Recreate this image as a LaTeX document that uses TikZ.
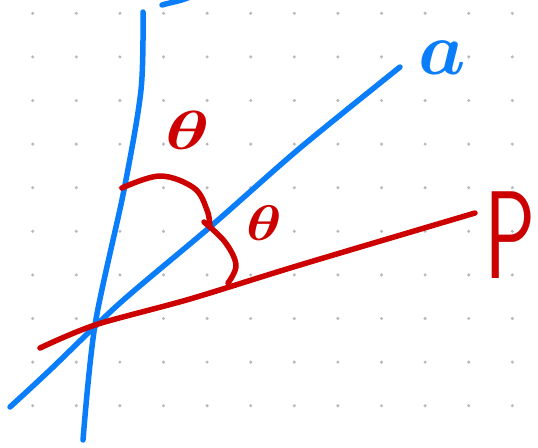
\documentclass[tikz,border=0pt]{standalone}
\usetikzlibrary{positioning}

\definecolor{penblue}{RGB}{10,125,250}
\definecolor{penred}{RGB}{205,0,0}
\definecolor{dotgray}{RGB}{185,185,185}

\tikzset{
  pen/.style={line width=5.5pt, line cap=round, line join=round},
  griddot/.style={fill=dotgray},
  handlabel/.style={inner sep=0pt, font=\boldmath}
}

\begin{document}
\begin{tikzpicture}[x=1pt, y=-1pt]
  \useasboundingbox (0,0) rectangle (538,447);
  \clip (0,0) rectangle (538,447);

  % Dotted paper
  \foreach \i in {0,...,11}
    \foreach \j in {0,...,9}
      \fill[griddot] (32.7+43.6*\i, 13.3+43.6*\j) circle (1.7pt);

  % Crossing point
  \coordinate (o) at (95,325);

  % Blue lines
  \draw[pen, penblue] plot[smooth, tension=0.5] coordinates
    {(143,12) (141,90) (124,190) (95,325) (83,440)}; % line b
  \draw[pen, penblue] plot[smooth, tension=0.5] coordinates
    {(10,407) (50,370) (120,303) (210,227) (300,148) (400,67)}; % line a
  \draw[pen, penblue] (162,5) .. controls (172,2) and (182,1) .. (192,-4); % cut-off b

  % Red line
  \draw[pen, penred] plot[smooth, tension=0.5] coordinates
    {(40,348) (95,325) (190,299) (300,265) (475,213)}; % line P

  % Angle arcs
  \draw[pen, penred] plot[smooth, tension=0.6] coordinates
    {(122,188) (160,176) (194,188) (207,210) (210,227)}; % big arc
  \draw[pen, penred] plot[smooth, tension=0.6] coordinates
    {(204,222) (225,242) (236,265) (228,283)}; % small arc

  % Labels
  \node[handlabel, text=penblue, scale=7.5] (la) at (442,58) {$a$};
  \node[handlabel, text=penred, xscale=8, yscale=12.5] (lp) at (510,235) {\sffamily P};
  \node[handlabel, text=penred, xscale=7.5, yscale=5.5] (t1) at (188,130) {$\theta$};
  \node[handlabel, text=penred, xscale=6, yscale=5] (t2) at (264,223) {$\theta$};
\end{tikzpicture}
\end{document}
